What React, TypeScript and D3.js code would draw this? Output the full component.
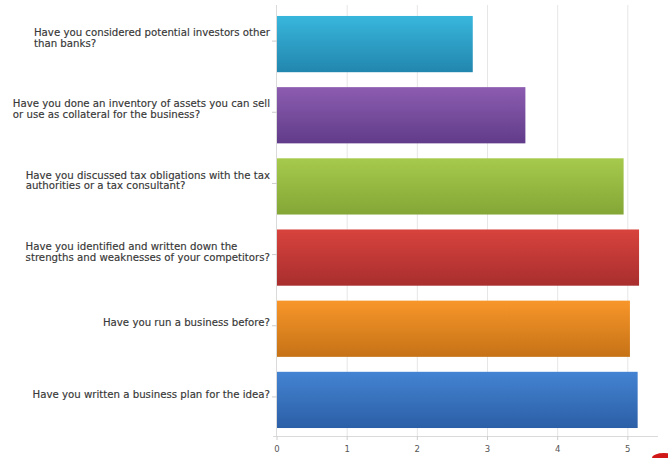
import React, { useEffect, useRef } from "react";
import * as d3 from "d3";

const categories: string[][] = [
  ["Have you considered potential investors other", "than banks?"],
  ["Have you done an inventory of assets you can sell", "or use as collateral for the business?"],
  ["Have you discussed tax obligations with the tax", "authorities or a tax consultant?"],
  ["Have you identified and written down the", "strengths and weaknesses of your competitors?"],
  ["Have you run a business before?"],
  ["Have you written a business plan for the idea?"],
];
const values: number[] = [2.79, 3.54, 4.94, 5.16, 5.03, 5.14];
const tickValues: number[] = [0, 1, 2, 3, 4, 5];
const colorTop: string[] = ["#38b6dc", "#8c5cb0", "#a6ca4c", "#d8433d", "#f8962a", "#4383d2"];
const colorBottom: string[] = ["#2286ae", "#613c8a", "#84a636", "#a82e2e", "#c57216", "#2c5fa6"];

const W = 668;
const H = 458;

export default function App() {
  const ref = useRef<SVGSVGElement | null>(null);

  useEffect(() => {
    const svg = d3.select(ref.current);
    svg.selectAll("*").remove();

    const x = d3.scaleLinear().domain([0, 5.43]).range([277, 658]);
    const y = d3
      .scaleBand<number>()
      .domain(d3.range(categories.length))
      .range([8.5, 435.5])
      .paddingInner(0.21)
      .paddingOuter(0.105);

    const defs = svg.append("defs");
    values.forEach((_, i) => {
      const g = defs
        .append("linearGradient")
        .attr("id", "g" + i)
        .attr("x1", 0)
        .attr("y1", 0)
        .attr("x2", 0)
        .attr("y2", 1);
      g.append("stop").attr("offset", "0%").attr("stop-color", colorTop[i]);
      g.append("stop").attr("offset", "100%").attr("stop-color", colorBottom[i]);
    });

    svg.append("rect").attr("width", W).attr("height", H).attr("fill", "#ffffff");

    // gridlines
    svg
      .append("g")
      .selectAll("line")
      .data(tickValues.slice(1))
      .join("line")
      .attr("x1", (d) => x(d))
      .attr("x2", (d) => x(d))
      .attr("y1", 5)
      .attr("y2", 436)
      .attr("stroke", "#e6e6e6")
      .attr("stroke-width", 1);

    // bars
    svg
      .append("g")
      .selectAll("rect")
      .data(values)
      .join("rect")
      .attr("x", x(0))
      .attr("y", (_, i) => y(i)!)
      .attr("width", (d) => x(d) - x(0))
      .attr("height", y.bandwidth())
      .attr("fill", (_, i) => `url(#g${i})`);

    // axes lines
    svg
      .append("line")
      .attr("x1", x(0) - 0.5)
      .attr("x2", x(0) - 0.5)
      .attr("y1", 5)
      .attr("y2", 436)
      .attr("stroke", "#dadada");
    svg
      .append("line")
      .attr("x1", x(0) - 4)
      .attr("x2", 658)
      .attr("y1", 436.5)
      .attr("y2", 436.5)
      .attr("stroke", "#dadada");

    // x ticks
    const xt = svg.append("g");
    xt.selectAll("line")
      .data(tickValues)
      .join("line")
      .attr("x1", (d) => x(d))
      .attr("x2", (d) => x(d))
      .attr("y1", 436)
      .attr("y2", 440)
      .attr("stroke", "#cccccc");
    xt.selectAll("text")
      .data(tickValues)
      .join("text")
      .attr("x", (d) => x(d))
      .attr("y", 452)
      .attr("text-anchor", "middle")
      .attr("font-family", "DejaVu Sans, Verdana, sans-serif")
      .attr("font-size", 8.5)
      .attr("fill", "#555555")
      .text((d) => String(d));

    // y ticks
    svg
      .append("g")
      .selectAll("line")
      .data(categories)
      .join("line")
      .attr("x1", x(0) - 5)
      .attr("x2", x(0))
      .attr("y1", (_, i) => y(i)! + y.bandwidth() / 2 - 3)
      .attr("y2", (_, i) => y(i)! + y.bandwidth() / 2 - 3)
      .attr("stroke", "#cccccc");

    // labels
    const lineH = 10.8;
    const lg = svg.append("g");
    categories.forEach((lines, i) => {
      const cy = y(i)! + y.bandwidth() / 2 - 6;
      const t = lg
        .append("text")
        .attr("font-family", "DejaVu Sans, Verdana, sans-serif")
        .attr("font-size", 10.2)
        .attr("fill", "#333333")
        .attr("stroke", "#444444")
        .attr("stroke-width", 0.15);
      const spans = lines.map((l, k) =>
        t
          .append("tspan")
          .attr("y", cy + (k - (lines.length - 1) / 2) * lineH + 3.6)
          .text(l)
      );
      let maxW = 0;
      spans.forEach((s) => {
        const n = s.node() as SVGTSpanElement;
        maxW = Math.max(maxW, n.getComputedTextLength());
      });
      const left = 270 - maxW;
      spans.forEach((s) => s.attr("x", left));
    });

    // red logo fragment
    svg
      .append("ellipse")
      .attr("cx", 664)
      .attr("cy", 458)
      .attr("rx", 12)
      .attr("ry", 5)
      .attr("fill", "#d01818");
  }, []);

  return (
    <div style={{ position: "absolute", left: 0, top: 0 }}>
      <svg ref={ref} width={W} height={H} style={{ display: "block" }} />
    </div>
  );
}
